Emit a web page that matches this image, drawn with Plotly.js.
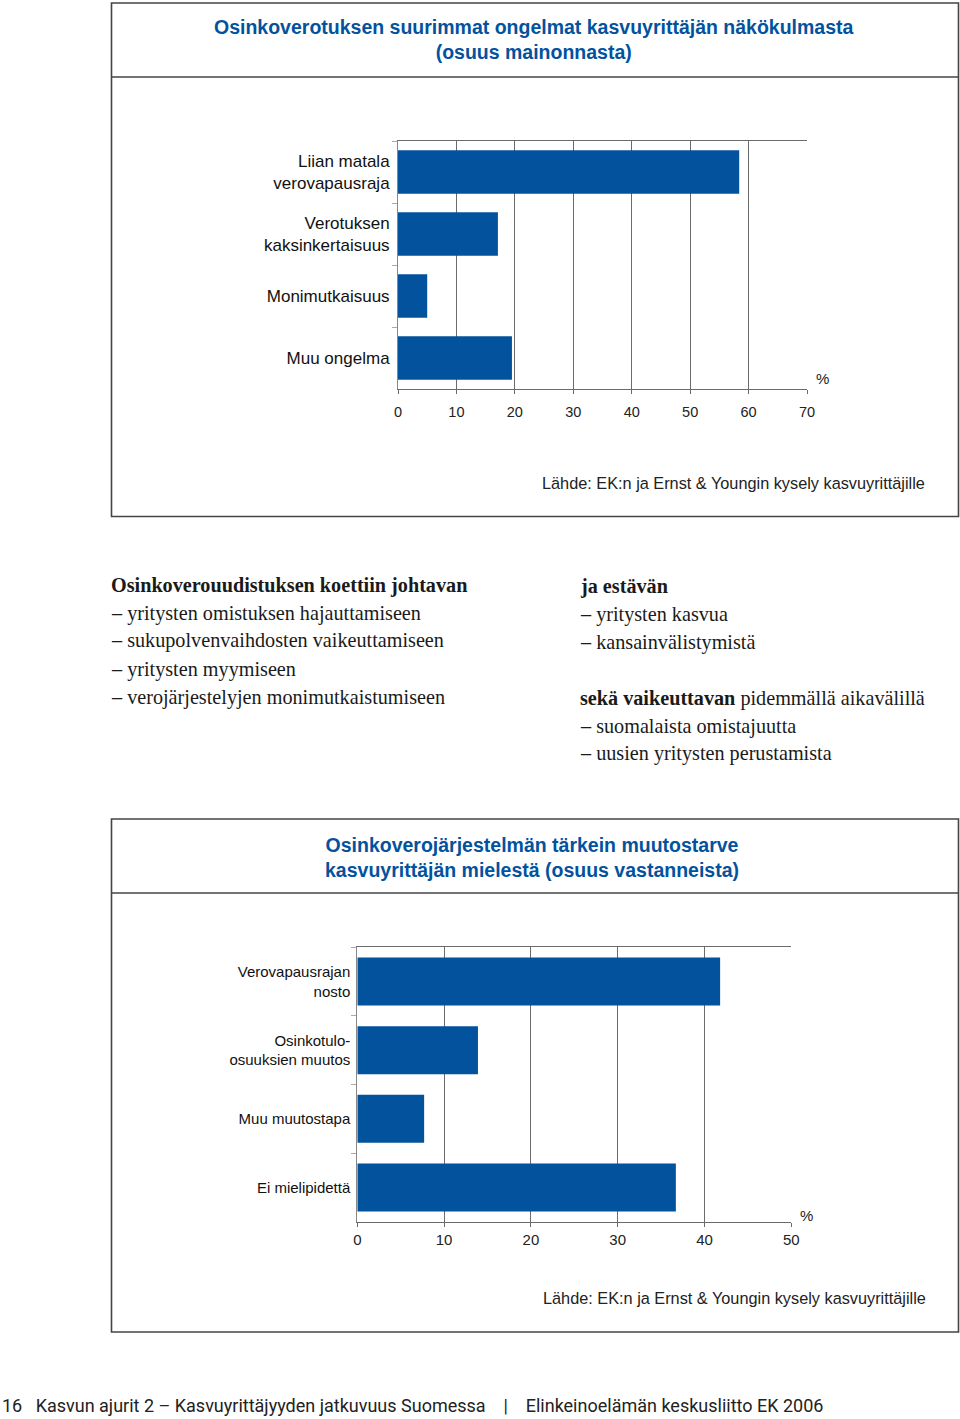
<!DOCTYPE html>
<html>
<head>
<meta charset="utf-8">
<script src="https://cdn.plot.ly/plotly-3.0.1.min.js"></script>
<style>
  html, body { margin: 0; padding: 0; background: #fff; }
  #page { width: 960px; height: 1419px; }
</style>
</head>
<body>
<div id="page"></div>
<script>
// chart 1: biggest problems of dividend taxation
var problemLabels = ['Liian matala<br>verovapausraja', 'Verotuksen<br>kaksinkertaisuus', 'Monimutkaisuus', 'Muu ongelma'];
var problemShares = [58.4, 17.1, 5.0, 19.5];

// chart 2: most important change needed
var changeLabels = ['Verovapausrajan<br>nosto', 'Osinkotulo-<br>osuuksien muutos', 'Muu muutostapa', 'Ei mielipidettä'];
var changeShares = [41.8, 13.9, 7.7, 36.7];

var title1 = 'Osinkoverotuksen suurimmat ongelmat kasvuyrittäjän näkökulmasta<br>(osuus mainonnasta)';
var title2 = 'Osinkoverojärjestelmän tärkein muutostarve<br>kasvuyrittäjän mielestä (osuus vastanneista)';
var sourceText = 'Lähde: EK:n ja Ernst &amp; Youngin kysely kasvuyrittäjille';

var leftLines = [
  '<b>Osinkoverouudistuksen koettiin johtavan</b>',
  '– yritysten omistuksen hajauttamiseen',
  '– sukupolvenvaihdosten vaikeuttamiseen',
  '– yritysten myymiseen',
  '– verojärjestelyjen monimutkaistumiseen'
];
var rightLines = [
  '<b>ja estävän</b>',
  '– yritysten kasvua',
  '– kansainvälistymistä',
  '',
  '<b>sekä vaikeuttavan</b> pidemmällä aikavälillä',
  '– suomalaista omistajuutta',
  '– uusien yritysten perustamista'
];
var footer = '16   Kasvun ajurit 2 – Kasvuyrittäjyyden jatkuvuus Suomessa    |    Elinkeinoelämän keskusliitto EK 2006';

var W = 960, H = 1419;
function px(x) { return x / W; }
function py(y) { return 1 - y / H; }

var blue = '#03529e';
var grid = '#6b6b6b';
var sans = 'Liberation Sans, Arial, sans-serif';
var serif = 'Liberation Serif, Times New Roman, serif';

var data = [
  {
    type: 'bar', orientation: 'h',
    x: problemShares, y: problemLabels,
    xaxis: 'x', yaxis: 'y',
    marker: { color: blue },
    hoverinfo: 'skip'
  },
  {
    type: 'bar', orientation: 'h',
    x: changeShares, y: changeLabels,
    xaxis: 'x2', yaxis: 'y2',
    marker: { color: blue },
    hoverinfo: 'skip'
  }
];

function xAxis(range, domain, anchor, fs, standoff) {
  return {
    domain: domain, anchor: anchor, range: range, dtick: 10,
    showgrid: true, gridcolor: grid, gridwidth: 1, zeroline: false,
    showline: true, linecolor: grid, linewidth: 1, mirror: true,
    ticks: 'outside', ticklen: 4, tickcolor: grid,
    ticklabelstandoff: standoff,
    tickfont: { family: sans, size: fs, color: '#222' },
    fixedrange: true
  };
}
function yAxis(domain, anchor, fs, standoff) {
  return {
    domain: domain, anchor: anchor, type: 'category', autorange: 'reversed',
    showgrid: false, zeroline: false,
    showline: true, linecolor: '#888', linewidth: 1,
    ticks: 'outside', tickson: 'boundaries', ticklen: 5, tickcolor: '#aaa',
    ticklabelstandoff: standoff,
    tickfont: { family: sans, size: fs, color: '#111' },
    fixedrange: true
  };
}

var annotations = [];
function note(text, x, y, opts) {
  var a = {
    text: text, xref: 'paper', yref: 'paper', x: px(x), y: py(y),
    showarrow: false, xanchor: 'left', yanchor: 'middle',
    font: { family: sans, size: 15, color: '#111' }
  };
  for (var k in opts) a[k] = opts[k];
  annotations.push(a);
}

function boldLines(t) { return '<b>' + t.replace('<br>', '</b><br><b>') + '</b>'; }

note(boldLines(title1), 534, 40, { xanchor: 'center', font: { family: sans, size: 19.5, color: blue } });
note(boldLines(title2), 532, 857.5, { xanchor: 'center', font: { family: sans, size: 19.5, color: blue } });
note('%', 814, 378, { font: { family: sans, size: 15, color: '#222' } });
note('%', 798, 1215, { font: { family: sans, size: 15, color: '#222' } });
note(sourceText, 927, 483, { xanchor: 'right', font: { family: sans, size: 16.3, color: '#222' } });
note(sourceText, 928, 1298, { xanchor: 'right', font: { family: sans, size: 16.3, color: '#222' } });

leftLines.forEach(function (t, i) {
  if (t) note(t, 109, 585 + i * 28, { font: { family: serif, size: 20.2, color: '#1a1a1a' } });
});
rightLines.forEach(function (t, i) {
  if (t) note(t, 578, 587 + i * 27.8, { font: { family: serif, size: 20.2, color: '#1a1a1a' } });
});
note(footer, 0, 1405, { font: { family: 'Roboto, sans-serif', size: 18, color: '#222' } });

var boxLine = { color: '#444', width: 1.6 };
var shapes = [
  { type: 'rect', xref: 'paper', yref: 'paper', x0: px(111.5), x1: px(958.5), y0: py(3), y1: py(516.5), line: boxLine },
  { type: 'line', xref: 'paper', yref: 'paper', x0: px(111.5), x1: px(958.5), y0: py(77), y1: py(77), line: boxLine },
  { type: 'rect', xref: 'paper', yref: 'paper', x0: px(111.5), x1: px(958.5), y0: py(819), y1: py(1332), line: boxLine },
  { type: 'line', xref: 'paper', yref: 'paper', x0: px(111.5), x1: px(958.5), y0: py(893), y1: py(893), line: boxLine }
];

var layout = {
  width: W, height: H,
  margin: { l: 0, r: 0, t: 0, b: 0, pad: 0 },
  paper_bgcolor: '#fff', plot_bgcolor: '#fff',
  showlegend: false,
  bargap: 0.3,
  xaxis: xAxis([0, 70], [px(398), px(807)], 'y', 14.5, 6),
  yaxis: yAxis([py(389), py(141)], 'x', 17, 4),
  xaxis2: xAxis([0, 50], [px(357.3), px(791.3)], 'y2', 15, 0),
  yaxis2: yAxis([py(1221.7), py(947.3)], 'x2', 15, 3),
  annotations: annotations,
  shapes: shapes
};

Plotly.newPlot('page', data, layout, { staticPlot: true, displayModeBar: false });
</script>
</body>
</html>
